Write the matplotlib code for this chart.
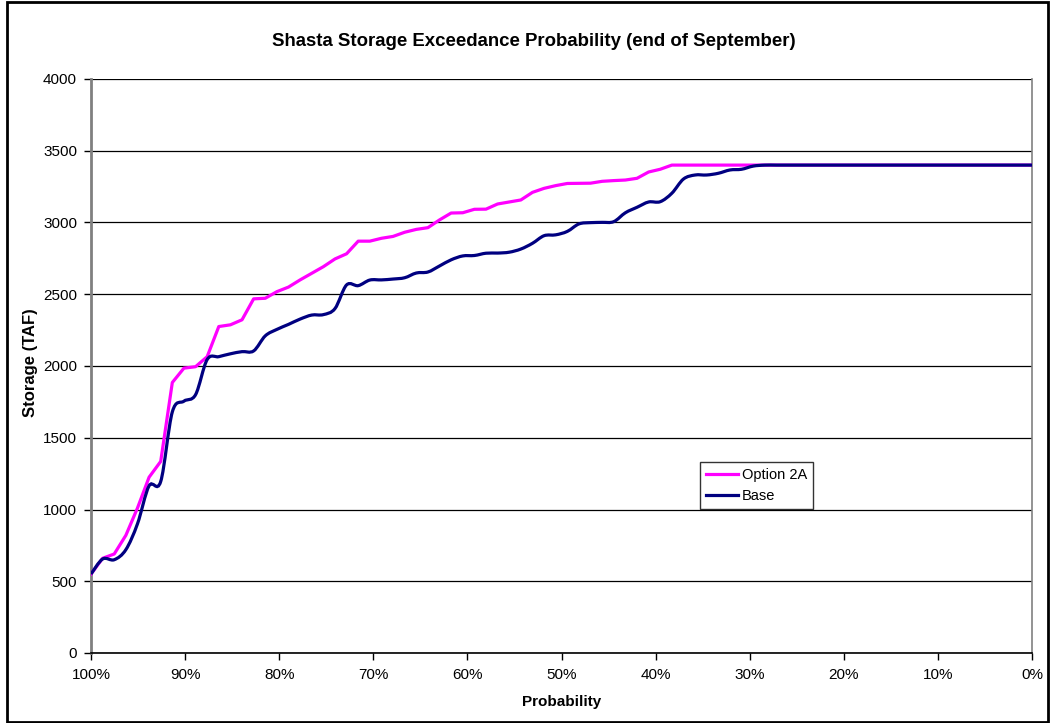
import numpy as np
import matplotlib
matplotlib.use("Agg")
import matplotlib.pyplot as plt
from matplotlib.path import Path
from matplotlib.patches import PathPatch, Rectangle
from matplotlib.lines import Line2D
from matplotlib.ticker import FuncFormatter

plt.rcParams["font.family"] = ["Liberation Sans", "DejaVu Sans"]

# End-of-September Shasta storage (TAF), sorted for exceedance
option_2a = [550, 660, 690, 820, 1010, 1225, 1335, 1885, 1985, 1995,
             2065, 2275, 2287, 2322, 2468, 2472, 2518, 2550, 2600, 2646,
             2692, 2746, 2782, 2870, 2870, 2890, 2903, 2932, 2952, 2964,
             3018, 3066, 3068, 3092, 3093, 3129, 3143, 3157, 3210, 3238,
             3257, 3272, 3273, 3274, 3287, 3292, 3296, 3308, 3352, 3371] + [3400] * 32
base = [550, 655, 650, 720, 900, 1165, 1195, 1680, 1755, 1800,
        2045, 2065, 2085, 2100, 2105, 2210, 2255, 2290, 2327, 2355,
        2358, 2400, 2565, 2560, 2599, 2600, 2606, 2615, 2648, 2655,
        2697, 2740, 2767, 2770, 2786, 2787, 2793, 2815, 2855, 2908,
        2914, 2938, 2990, 2999, 3001, 3006, 3068, 3106, 3143, 3145,
        3204, 3303, 3331, 3331, 3343, 3366, 3371, 3393] + [3400] * 24

# Exceedance probability (%) for each ranked year
probability = np.linspace(100, 0, len(base))

series_names = ["Option 2A", "Base"]
series_colors = ["#FF00FF", "#000080"]
y_ticks = list(range(0, 4001, 500))
x_ticks = list(range(0, 101, 10))


def smooth_path(x, y):
    """Catmull-Rom style Bezier path through the points (smoothed line)."""
    pts = np.column_stack([np.asarray(x, float), np.asarray(y, float)])
    n = len(pts)
    verts = [pts[0]]
    codes = [Path.MOVETO]
    for i in range(n - 1):
        p0 = pts[i - 1] if i > 0 else pts[i]
        p1 = pts[i]
        p2 = pts[i + 1]
        p3 = pts[i + 2] if i + 2 < n else pts[i + 1]
        verts += [p1 + (p2 - p0) / 6.0, p2 - (p3 - p1) / 6.0, p2]
        codes += [Path.CURVE4] * 3
    return Path(verts, codes)


fig = plt.figure(figsize=(10.51, 7.23), dpi=100)
ax = fig.add_axes([91 / 1051, 70 / 723, 941 / 1051, 574 / 723])

lw = 2.3
ax.plot(probability, option_2a, color=series_colors[0], lw=lw,
        solid_joinstyle="round", zorder=3)
ax.add_patch(PathPatch(smooth_path(probability, base), facecolor="none",
                       edgecolor=series_colors[1], lw=lw, zorder=4))

ax.set_xlim(100, 0)
ax.set_ylim(0, 4000)
ax.set_yticks(y_ticks)
ax.set_xticks(x_ticks)
ax.xaxis.set_major_formatter(FuncFormatter(lambda v, p: f"{int(round(v))}%"))
ax.yaxis.grid(True, color="black", lw=0.9)
ax.set_axisbelow(True)

ax.spines["top"].set_visible(False)
ax.spines["left"].set_color("#808080")
ax.spines["left"].set_linewidth(2)
ax.spines["right"].set_color("#808080")
ax.spines["right"].set_linewidth(1.2)
ax.spines["bottom"].set_color("black")
ax.spines["bottom"].set_linewidth(1.2)

ax.tick_params(axis="both", labelsize=11, length=5, width=1, color="black", pad=6)
ax.tick_params(axis="y", pad=5)

fig.text(534 / 1051, 1 - 41 / 723,
         "Shasta Storage Exceedance Probability (end of September)",
         ha="center", va="center", fontsize=13.4, fontweight="bold")
fig.text(562 / 1051, 1 - 702 / 723, "Probability", ha="center", va="center",
         fontsize=11, fontweight="bold")
fig.text(31 / 1051, 1 - 363 / 723, "Storage (TAF)", ha="center", va="center",
         rotation=90, fontsize=12, fontweight="bold")

handles = [Line2D([], [], color=c, lw=lw) for c in series_colors]
leg = ax.legend(handles, series_names, loc="upper left",
                bbox_to_anchor=((700 - 91) / 941, (653 - 462) / 574),
                frameon=True, fancybox=False, edgecolor="black", fontsize=10.5,
                handlelength=2.2, handletextpad=0.25, borderpad=0.4,
                labelspacing=0.5, borderaxespad=0)
leg.get_frame().set_linewidth(1)

fig.patches.append(Rectangle((7 / 1051, 1 / 723), 1041 / 1051, 720 / 723,
                             transform=fig.transFigure, fill=False,
                             edgecolor="black", lw=2))

fig.savefig("out.png", dpi=100)
